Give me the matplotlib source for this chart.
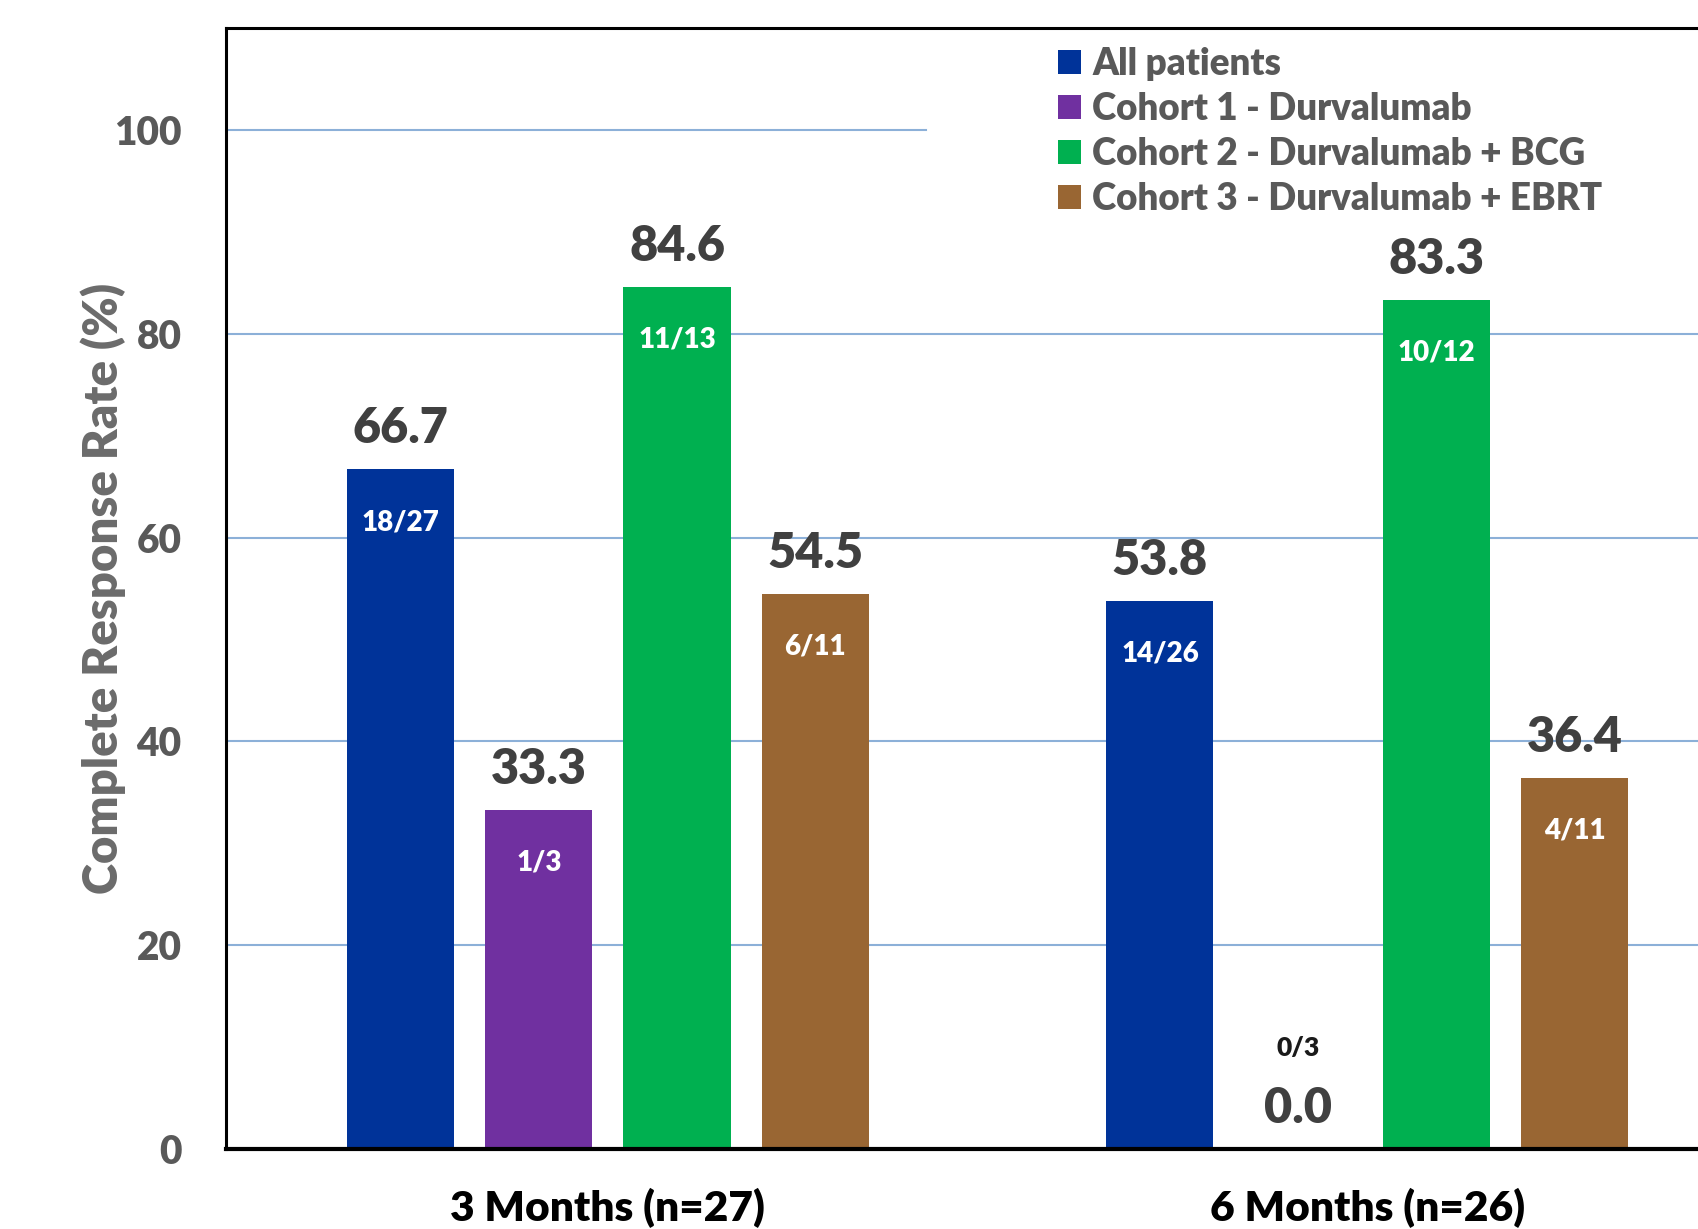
import matplotlib
matplotlib.use("Agg")
import matplotlib.pyplot as plt
import numpy as np

plt.rcParams["font.family"] = ["Lato", "DejaVu Sans"]
plt.rcParams["font.weight"] = "heavy"

# Data
timepoints = ["3 Months (n=27)", "6 Months (n=26)"]
series_names = [
    "All patients",
    "Cohort 1 - Durvalumab",
    "Cohort 2 - Durvalumab + BCG",
    "Cohort 3 - Durvalumab + EBRT",
]
series_colors = ["#003399", "#7030A0", "#00B050", "#996633"]
rates = [
    [66.7, 53.8],   # All patients
    [33.3, 0.0],    # Cohort 1
    [84.6, 83.3],   # Cohort 2
    [54.5, 36.4],   # Cohort 3
]
responders = [
    ["18/27", "14/26"],
    ["1/3", "0/3"],
    ["11/13", "10/12"],
    ["6/11", "4/11"],
]
yticks = [0, 20, 40, 60, 80, 100]

W = "heavy"

fig = plt.figure(figsize=(16.99, 12.29), dpi=100)
ax = fig.add_axes([0.1330, 0.0651, 0.8952, 0.9121])

x = np.arange(len(timepoints))
step = 0.182
width = 0.141
offsets = (np.arange(len(series_names)) - 1.5) * step

# gridlines (the top one stops short of the legend)
for v in yticks[1:]:
    ax.axhline(v, xmin=0, xmax=(0.46 if v == 100 else 1.0),
               color="#8CB0D8", lw=1.5, zorder=0)

for i, name in enumerate(series_names):
    bars = ax.bar(x + offsets[i], rates[i], width, color=series_colors[i],
                  label=name, zorder=2)
    for j, b in enumerate(bars):
        val = rates[i][j]
        cx = b.get_x() + b.get_width() / 2
        ax.annotate(f"{val:.1f}", (cx, val), xytext=(0, 29),
                    textcoords="offset points", ha="center", va="center",
                    fontsize=35, fontweight=W, color="#404040", zorder=4)
        if val > 0:
            ax.annotate(responders[i][j], (cx, val), xytext=(0, -38),
                        textcoords="offset points", ha="center", va="center",
                        fontsize=20, fontweight=W, color="white", zorder=4)
        else:
            ax.annotate(responders[i][j], (cx, val), xytext=(0, 73),
                        textcoords="offset points", ha="center", va="center",
                        fontsize=19, fontweight=W, color="#1a1a1a", zorder=4)

ax.set_xlim(-0.503, 1.5)
ax.set_ylim(0, 110)
ax.set_yticks(yticks)
ax.set_yticklabels([str(t) for t in yticks])
ax.set_xticks(x)
ax.set_xticklabels(timepoints)

ax.tick_params(axis="y", length=0, pad=32, labelsize=28, labelcolor="#595959")
ax.tick_params(axis="x", length=0, pad=28, labelsize=30.5, labelcolor="#000000")
for lab in ax.get_xticklabels() + ax.get_yticklabels():
    lab.set_fontweight(W)

ax.set_ylabel("Complete Response Rate (%)", fontsize=34, fontweight=W,
              color="#6b6b6b")
ax.yaxis.set_label_coords(-0.066, 0.5)

for side in ["left", "top", "right"]:
    ax.spines[side].set_color("black")
    ax.spines[side].set_linewidth(2.2)
ax.spines["bottom"].set_color("black")
ax.spines["bottom"].set_linewidth(3)
for sp in ax.spines.values():
    sp.set_zorder(5)

leg = ax.legend(loc="upper left", bbox_to_anchor=(0.547, 0.983),
                frameon=False, prop={"weight": W, "size": 26.5},
                handlelength=0.63, handleheight=0.63, handletextpad=0.3,
                labelspacing=0.3, borderpad=0, borderaxespad=0)
for t in leg.get_texts():
    t.set_color("#595959")

fig.savefig("out.png", dpi=100)
